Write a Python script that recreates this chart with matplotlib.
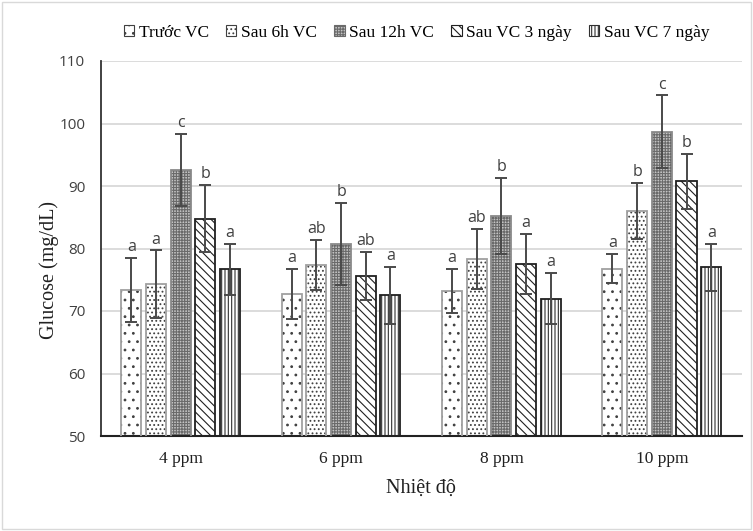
import matplotlib
matplotlib.use("Agg")
import matplotlib.pyplot as plt
from matplotlib.patches import Patch, Rectangle
import numpy as np

categories = ["4 ppm", "6 ppm", "8 ppm", "10 ppm"]
series_names = ["Trước VC", "Sau 6h VC", "Sau 12h VC", "Sau VC 3 ngày", "Sau VC 7 ngày"]

truoc_vc = [73.4, 72.8, 73.2, 76.8]
sau_6h = [74.3, 77.4, 78.3, 86.0]
sau_12h = [92.6, 80.7, 85.2, 98.7]
sau_3ngay = [84.8, 75.6, 77.5, 90.8]
sau_7ngay = [76.7, 72.5, 72.0, 77.0]

err_truoc = [5.1, 4.0, 3.5, 2.3]
err_6h = [5.4, 4.0, 4.8, 4.5]
err_12h = [5.8, 6.6, 6.1, 5.8]
err_3ngay = [5.4, 3.9, 4.8, 4.4]
err_7ngay = [4.1, 4.6, 4.1, 3.8]

letters_truoc = ["a", "a", "a", "a"]
letters_6h = ["a", "ab", "ab", "b"]
letters_12h = ["c", "b", "b", "c"]
letters_3ngay = ["b", "ab", "a", "b"]
letters_7ngay = ["a", "a", "a", "a"]

values = [truoc_vc, sau_6h, sau_12h, sau_3ngay, sau_7ngay]
errors = [err_truoc, err_6h, err_12h, err_3ngay, err_7ngay]
letters = [letters_truoc, letters_6h, letters_12h, letters_3ngay, letters_7ngay]

styles = [
    dict(face="white", hatch="..", hcol="#404040", edge="#a0a0a0"),
    dict(face="white", hatch="....", hcol="#404040", edge="#a0a0a0"),
    dict(face="#c4c4c4", hatch="++++++", hcol="#6a6a6a", edge="#8a8a8a"),
    dict(face="white", hatch="\\\\\\\\", hcol="#202020", edge="#202020"),
    dict(face="white", hatch="|||||", hcol="#303030", edge="#202020"),
]

plt.rcParams["hatch.linewidth"] = 0.8

fig = plt.figure(figsize=(7.53, 5.31), dpi=100)
ax = fig.add_axes([100.5 / 753, 1 - 436 / 531, (742 - 100.5) / 753, (436 - 61) / 531])

x = np.arange(len(categories))
pitch = 0.154
width = 0.125
for i, (vals, errs, labs, st) in enumerate(zip(values, errors, letters, styles)):
    xs = x + (i - 2) * pitch
    ax.bar(xs, vals, width, bottom=0, color=st["face"], hatch=st["hatch"],
           edgecolor=st["hcol"], linewidth=0, zorder=2)
    ax.bar(xs, vals, width, fill=False, edgecolor=st["edge"], linewidth=1.3, zorder=3)
    ax.errorbar(xs, vals, yerr=errs, fmt="none", ecolor="#4a4a4a", elinewidth=1.4,
                capsize=4, capthick=1.4, zorder=4)
    for xi, v, e, lab in zip(xs, vals, errs, labs):
        ax.annotate(lab, (xi, v + e), xytext=(0, 2), textcoords="offset points",
                    ha="center", va="bottom", fontsize=11.5, color="#404040",
                    family="Open Sans")

ax.set_ylim(50, 110)
ax.set_xlim(-0.5, 3.5)
ax.set_yticks(np.arange(50, 111, 10))
ax.yaxis.grid(True, color="#d9d9d9", linewidth=1.3, zorder=0)
ax.set_axisbelow(True)
for s in ["top", "right"]:
    ax.spines[s].set_visible(False)
ax.spines["left"].set_color("#333333")
ax.spines["left"].set_linewidth(1.3)
ax.spines["bottom"].set_color("#222222")
ax.spines["bottom"].set_linewidth(1.5)

ax.set_xticks(x)
ax.set_xticklabels(categories, family="Liberation Serif", fontsize=12.5, color="#202020")
ax.tick_params(axis="x", length=0, pad=11)
ax.tick_params(axis="y", length=0, pad=11, labelsize=11, labelcolor="#404040")
for t in ax.get_yticklabels():
    t.set_family("Open Sans")

ax.set_xlabel("Nhiệt độ", family="Liberation Serif", fontsize=14.5, color="#202020", labelpad=8)
fig.text(49 / 753, 1 - 270 / 531, "Glucose (mg/dL)", rotation=90, ha="center", va="center",
         family="Liberation Serif", fontsize=14.5, color="#202020")

handles = [Patch(facecolor=st["face"], hatch=st["hatch"], edgecolor=st["hcol"], linewidth=0.8)
           for st in styles]
leg = fig.legend(handles, series_names, loc="center", bbox_to_anchor=(416.5 / 753, 1 - 33 / 531),
                 ncol=5, frameon=False, prop={"family": "Liberation Serif", "size": 12.5},
                 handlelength=0.6, handleheight=0.6, handletextpad=0.25, columnspacing=1.0,
                 borderaxespad=0)

fig.patches.append(Rectangle((2 / 753, 2 / 531), 749 / 753, 527 / 531, transform=fig.transFigure,
                             fill=False, edgecolor="#d9d9d9", linewidth=1))

fig.savefig("out.png", dpi=100)
